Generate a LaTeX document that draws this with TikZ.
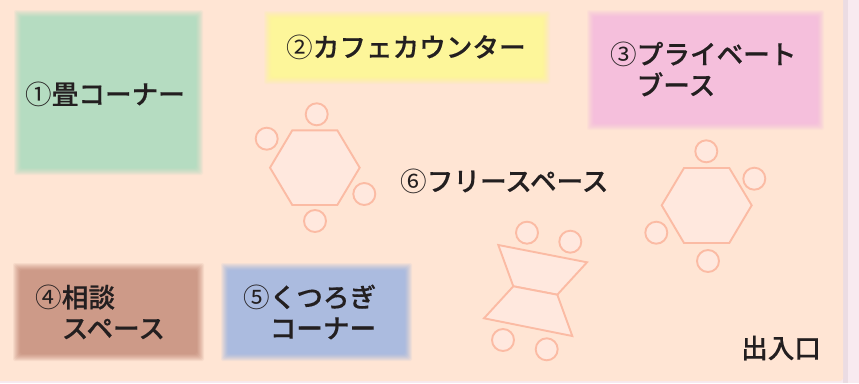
\documentclass[tikz,border=0pt]{standalone}
\usepackage{fontspec}
\setmainfont{Noto Sans CJK JP Medium}[FakeBold=0.4]
\newfontfamily\circfont{Noto Sans CJK JP}
\definecolor{panel}{HTML}{FFE5D4}
\definecolor{outside}{HTML}{F8EAF0}
\definecolor{edge}{HTML}{EBDCE3}
\definecolor{furn}{HTML}{FBBBA4}
\definecolor{furnfill}{HTML}{FFE8DE}
\definecolor{ink}{HTML}{231F20}
\definecolor{cA}{HTML}{B5DCC1}
\definecolor{cB}{HTML}{FDF69A}
\definecolor{cC}{HTML}{F5BFDC}
\definecolor{cD}{HTML}{CD9A88}
\definecolor{cE}{HTML}{ABBBDF}
\tikzset{
  furniture/.style={draw=furn,fill=furnfill,line width=1.9pt,line join=miter},
  seat/.style={circle,draw=furn,fill=furnfill,line width=1.9pt,minimum size=22pt,inner sep=0pt},
  lbl/.style={text=ink,font=\fontsize{26.6}{31}\selectfont,inner sep=0pt,anchor=west,align=left},
}
\newcommand{\softrect}[5]{% x0 y0 x1 y1 colour
  \foreach \d/\o in {-1/0.14,0/0.18,1/0.2,2/0.22,3/0.28,4/0.36,5/0.5,6/0.7,7/1}{
    \fill[#5,opacity=\o,rounded corners=2pt] ({#1+\d},{#2+\d}) rectangle ({#3-\d},{#4-\d});
  }
}
\newcommand{\circd}[1]{{\circfont #1}}
\begin{document}
\begin{tikzpicture}[x=1pt,y=-1pt]
\useasboundingbox (0,0) rectangle (859,383);
\fill[outside] (0,0) rectangle (859,383);
\fill[edge] (843,0) rectangle (848,383);
\fill[panel,rounded corners=3pt] (-5,-5) rectangle (843,381);
\softrect{15}{11}{202}{174}{cA}
\softrect{265}{12}{549}{83}{cB}
\softrect{588}{11}{823}{129}{cC}
\softrect{14}{264}{203}{360}{cD}
\softrect{222}{264}{411}{360}{cE}
% table left
\coordinate (h1) at (270,167.7);\coordinate (h2) at (292.3,130.3);\coordinate (h3) at (337.3,130.3);
\coordinate (h4) at (359.7,167.7);\coordinate (h5) at (337.3,205);\coordinate (h6) at (292.3,205);
\draw[furniture] (h1)--(h2)--(h3)--(h4)--(h5)--(h6)--cycle;
\node[seat] (s1) at (316.7,114.3) {};
\node[seat] (s2) at (266.7,138.7) {};
\node[seat] (s3) at (364.3,194) {};
\node[seat] (s4) at (315,221) {};
% table right
\coordinate (k1) at (661.7,205.3);\coordinate (k2) at (684,168);\coordinate (k3) at (729.3,168);
\coordinate (k4) at (751.7,205.3);\coordinate (k5) at (729.3,243);\coordinate (k6) at (684,243);
\draw[furniture] (k1)--(k2)--(k3)--(k4)--(k5)--(k6)--cycle;
\node[seat] (s5) at (706.3,151.3) {};
\node[seat] (s6) at (754.3,178.7) {};
\node[seat] (s7) at (656.3,232.7) {};
\node[seat] (s8) at (708,261) {};
% bow-tie tables
\coordinate (b1) at (498.3,245);\coordinate (b2) at (587,262.3);\coordinate (b3) at (557.3,294.7);
\coordinate (b4) at (513.3,286.3);\coordinate (b5) at (572.3,336);\coordinate (b6) at (484,318.3);
\draw[furniture] (b1)--(b2)--(b3)--(b4)--cycle;
\draw[furniture] (b4)--(b3)--(b5)--(b6)--cycle;
\node[seat] (s9) at (527,232.7) {};
\node[seat] (s10) at (570.3,241.7) {};
\node[seat] (s11) at (503,340) {};
\node[seat] (s12) at (546.7,349.3) {};
% labels
\node[lbl] (n1) at (25,94) {\circd{①}畳コーナー};
\node[lbl] (n2) at (286,47) {\circd{②}カフェカウンター};
\node[lbl] (n3) at (610,69) {\circd{③}プライベート\\\hspace{26.6pt}ブース};
\node[lbl] (n4) at (35,312) {\circd{④}相談\\\hspace{26.6pt}スペース};
\node[lbl] (n5) at (243,312) {\circd{⑤}くつろぎ\\\hspace{26.6pt}コーナー};
\node[lbl] (n6) at (400,181) {\circd{⑥}フリースペース};
\node[lbl] (n7) at (741,348) {出入口};
\end{tikzpicture}
\end{document}
